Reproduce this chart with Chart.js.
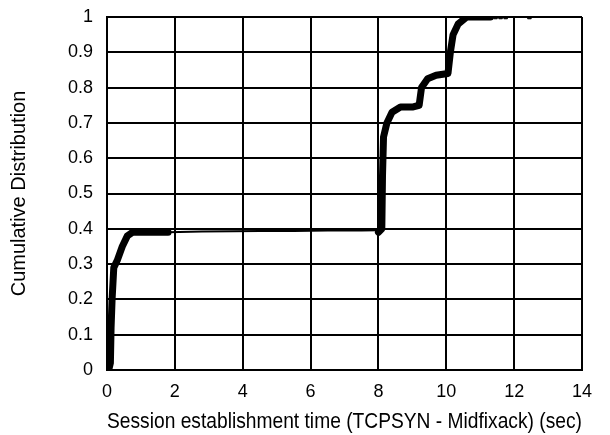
<!DOCTYPE html>
<html>
<head>
<meta charset="utf-8">
<script src="https://cdn.jsdelivr.net/npm/chart.js@4"></script>
<style>
  html, body { margin: 0; padding: 0; background: #fff; }
</style>
</head>
<body>
<canvas id="chart" width="610" height="435"></canvas>
<script>
// session establishment time (sec) vs cumulative distribution
let earlyTime = [0.05, 0.1, 0.12, 0.15, 0.2, 0.3, 0.45, 0.6, 0.75, 1.2, 1.8]
let earlyCdf = [0, 0.02, 0.12, 0.2, 0.29, 0.31, 0.35, 0.38, 0.39, 0.39, 0.39]

let midTime = [1.8, 2.8, 3.7, 4.5, 5.5, 6.5, 7.5, 8.0]
let midCdf = [0.39, 0.392, 0.393, 0.394, 0.394, 0.395, 0.395, 0.396]

let lateTime = [8.0, 8.1, 8.12, 8.15, 8.25, 8.4, 8.65, 9.0, 9.2, 9.27, 9.45, 9.7, 10.05, 10.12, 10.2, 10.35, 10.6, 11.0, 11.3]
let lateCdf = [0.39, 0.4, 0.55, 0.66, 0.7, 0.73, 0.745, 0.745, 0.75, 0.8, 0.825, 0.835, 0.84, 0.9, 0.95, 0.98, 1.0, 1.0, 1.0]

let tailTime = [11.45, 11.6, 11.75, 12.45]
let tailCdf = [1, 1, 1, 1]

let xTicks = [0, 2, 4, 6, 8, 10, 12, 14]
let yTicks = [0, 0.1, 0.2, 0.3, 0.4, 0.5, 0.6, 0.7, 0.8, 0.9, 1]

function toPoints(xs, ys) {
    let pts = []
    for (let i = 0; i < xs.length; i++) {
        pts.push({ x: xs[i], y: ys[i] })
    }
    return pts
}

let family = '"Liberation Sans", Arial, sans-serif'
let tickFont = { family: family, size: 18 }
let titleFont = { family: family, size: 22 }

let chart = new Chart(document.getElementById('chart').getContext('2d'), {
    type: 'scatter',
    data: {
        datasets: [
            { data: toPoints(earlyTime, earlyCdf), showLine: true, borderColor: '#000', borderWidth: 7, pointRadius: 0, borderJoinStyle: 'round', borderCapStyle: 'round' },
            { data: toPoints(midTime, midCdf), showLine: true, borderColor: '#000', borderWidth: 2, pointRadius: 0 },
            { data: toPoints(lateTime, lateCdf), showLine: true, borderColor: '#000', borderWidth: 7, pointRadius: 0, borderJoinStyle: 'round', borderCapStyle: 'round' },
            { data: toPoints(tailTime, tailCdf), showLine: false, backgroundColor: '#000', borderColor: '#000', pointStyle: 'rect', pointRadius: 2.5 }
        ]
    },
    options: {
        responsive: false,
        animation: false,
        devicePixelRatio: 1,
        layout: { padding: { top: 17, right: 28, left: 4, bottom: 0 } },
        plugins: { legend: { display: false }, tooltip: { enabled: false } },
        scales: {
            x: {
                type: 'linear', min: 0, max: 14,
                afterBuildTicks: (axis) => { axis.ticks = xTicks.map(v => ({ value: v })) },
                afterFit: (axis) => { axis.height = 65 },
                ticks: { color: '#000', font: tickFont, padding: 11 },
                grid: { color: '#000', lineWidth: 2, drawTicks: false },
                border: { color: '#000', width: 2 },
                title: { display: true, text: 'Session establishment time (TCPSYN - Midfixack) (sec)', color: '#000', font: titleFont, padding: { top: 0, bottom: 0 } }
            },
            y: {
                type: 'linear', min: 0, max: 1,
                afterBuildTicks: (axis) => { axis.ticks = yTicks.map(v => ({ value: v })) },
                afterFit: (axis) => {
                    axis.width = 103
                    axis.paddingTop = 0
                    axis.paddingBottom = 0
                },
                ticks: { color: '#000', font: tickFont, padding: 14, callback: (v) => String(Math.round(v * 10) / 10) },
                grid: { color: '#000', lineWidth: 2, drawTicks: false },
                border: { color: '#000', width: 2 },
                title: { display: true, text: 'Cumulative Distribution', color: '#000', font: { family: family, size: 20 }, padding: 3 }
            }
        }
    }
})
</script>
</body>
</html>
